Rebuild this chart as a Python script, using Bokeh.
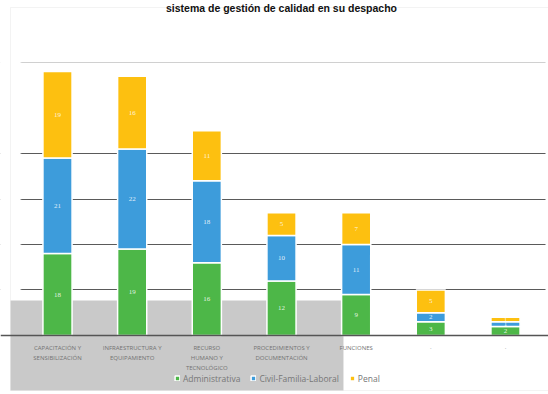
from bokeh.plotting import figure
from bokeh.models import (ColumnDataSource, FixedTicker, Span, BoxAnnotation, Legend,
                          LegendItem, Label, LabelSet, Range1d)
from bokeh.embed import file_html
from bokeh.resources import INLINE

title = "sistema de gestión de calidad en su despacho"
categories = ["CAPACITACIÓN Y\nSENSIBILIZACIÓN", "INFRAESTRUCTURA Y\nEQUIPAMIENTO",
              "RECURSO\nHUMANO Y\nTECNOLÓGICO", "PROCEDIMIENTOS Y\nDOCUMENTACIÓN",
              "FUNCIONES", "·", "·"]
series = ["Administrativa", "Civil-Familia-Laboral", "Penal"]
administrativa = [18, 19, 16, 12, 9, 3, 2]
civil = [21, 22, 18, 10, 11, 2, 1]
penal = [19, 16, 11, 5, 7, 5, 1]
colors = ["#4db748", "#3d9cdb", "#fdc010"]

W, H = 548, 394
p = figure(width=W, height=H, output_backend="svg", toolbar_location=None,
           x_range=Range1d(-0.7634, 6.576), y_range=Range1d(-12.97, 73.63),
           min_border_left=0, min_border_right=0, min_border_top=0, min_border_bottom=0)
p.outline_line_color = None
p.background_fill_color = "white"
p.border_fill_color = "white"

p.yaxis.visible = False
p.ygrid.ticker = FixedTicker(ticks=[10, 20, 30, 40])
p.ygrid.grid_line_color = "#5a5a5a"
p.ygrid.grid_line_width = 1
p.xgrid.visible = False
p.add_layout(Span(location=60, dimension="width", line_color="#d0d0d0", line_width=1.2, level="underlay"))

# white margins of the scanned page (grid lines stop short of the edges)
p.add_layout(BoxAnnotation(left=-2, right=-0.4955, bottom=7.69, top=80, fill_color="white", fill_alpha=1.0,
                           line_color="white", line_width=2, level="underlay"))
p.add_layout(BoxAnnotation(left=6.536, right=8, bottom=-20, top=80, fill_color="white", fill_alpha=1.0,
                           line_color=None, level="underlay"))
# grey scan shading behind the lower-left part of the chart
p.add_layout(BoxAnnotation(left=-0.6295, right=3.83, top=7.69, bottom=-12.09,
                           fill_color="#c9c9c9", fill_alpha=1.0, line_color=None, level="underlay"))
# light frame around the chart
p.add_layout(BoxAnnotation(left=-0.6295, right=7.5, top=72.09, bottom=-12.09,
                           fill_color=None, fill_alpha=0, line_color="#d6d6d6", line_width=1,
                           level="underlay"))

x = list(range(len(categories)))
b1 = administrativa
b2 = [a + c for a, c in zip(administrativa, civil)]
b3 = [a + c + q for a, c, q in zip(administrativa, civil, penal)]
src = ColumnDataSource(dict(x=x, z=[0] * len(x), b1=b1, b2=b2, b3=b3,
                            m1=[v / 2 for v in b1],
                            m2=[(u + v) / 2 for u, v in zip(b1, b2)],
                            m3=[(u + v) / 2 for u, v in zip(b2, b3)],
                            t1=[str(v) for v in administrativa],
                            t2=[str(v) for v in civil],
                            t3=[str(v) for v in penal]))

r1 = p.vbar(x="x", bottom="z", top="b1", width=0.39, source=src, fill_color=colors[0], line_color="white", line_width=1.5)
r2 = p.vbar(x="x", bottom="b1", top="b2", width=0.39, source=src, fill_color=colors[1], line_color="white", line_width=1.5)
r3 = p.vbar(x="x", bottom="b2", top="b3", width=0.39, source=src, fill_color=colors[2], line_color="white", line_width=1.5)

for ycol, tcol in [("m1", "t1"), ("m2", "t2"), ("m3", "t3")]:
    p.add_layout(LabelSet(x="x", y=ycol, text=tcol, source=src, text_color="white", text_alpha=0.85,
                          text_font_size="7px", text_align="center", text_baseline="middle",
                          text_font="Open Sans"))

p.xaxis.fixed_location = 0
p.xaxis.ticker = FixedTicker(ticks=x)
p.xaxis.major_label_overrides = {i: c for i, c in enumerate(categories)}
p.xaxis.axis_line_color = "#555555"
p.xaxis.axis_line_width = 1.5
p.xaxis.major_tick_line_color = None
p.xaxis.minor_tick_line_color = None
p.xaxis.major_label_text_font_size = "6px"
p.xaxis.major_label_text_color = "#737373"
p.xaxis.major_label_text_font = "Open Sans"
p.xaxis.major_label_standoff = 3

legend = Legend(items=[LegendItem(label=s, renderers=[r]) for s, r in zip(series, [r1, r2, r3])],
                orientation="horizontal", location=(174, 10),
                label_text_font_size="8.5px", label_text_color="#777777", label_text_font="Open Sans",
                label_height=12, glyph_width=6, glyph_height=6, spacing=10, label_standoff=3,
                border_line_color=None, background_fill_alpha=0, padding=2, margin=0)
p.add_layout(legend)

p.add_layout(Label(x=3.0, y=73.4, text=title,
                   text_font_size="10.5px", text_font_style="bold", text_align="center",
                   text_baseline="top", text_font="Liberation Sans", text_color="#111111"))

open("out.html", "w").write(file_html(p, INLINE))
